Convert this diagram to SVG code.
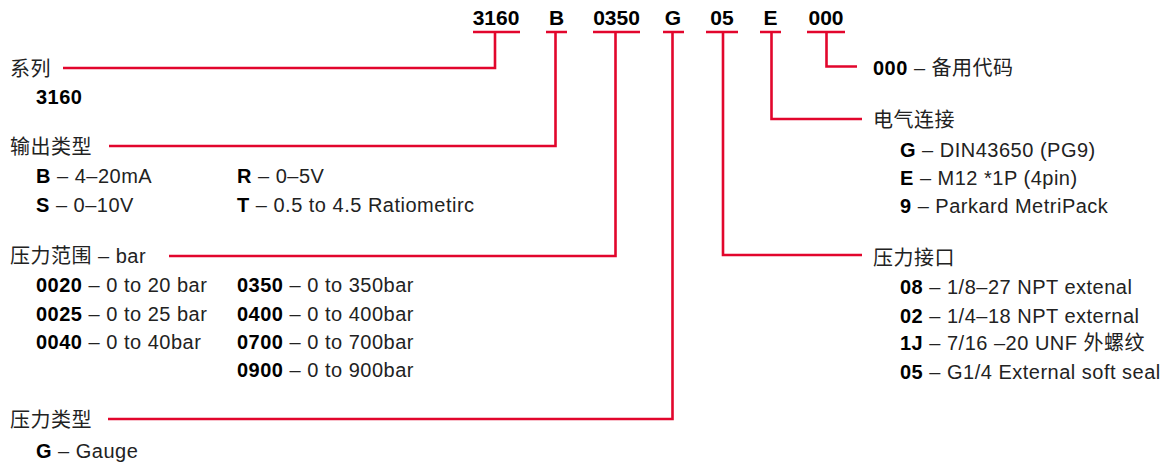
<svg xmlns="http://www.w3.org/2000/svg" width="1166" height="462" viewBox="0 0 1166 462">
<style>
text{font-family:"Liberation Sans","Noto Sans CJK SC",sans-serif;font-size:20px;fill:#222;letter-spacing:0.5px}
.b{font-weight:bold;fill:#000}
.code{font-weight:bold;font-size:21px;fill:#000;text-anchor:middle;letter-spacing:0}
.ln{fill:none;stroke:#e2062c;stroke-width:2.6;stroke-linecap:butt;stroke-linejoin:miter}
</style>
<rect width="1166" height="462" fill="#fff"/>
<g id="codes">
<text class="code" x="496" y="25">3160</text>
<text class="code" x="556.5" y="25">B</text>
<text class="code" x="616.5" y="25">0350</text>
<text class="code" x="673" y="25">G</text>
<text class="code" x="722" y="25">05</text>
<text class="code" x="770.5" y="25">E</text>
<text class="code" x="826" y="25">000</text>
</g>
<g id="connectors">
<path class="ln" d="M473 32H520M495 32V68H63"/>
<path class="ln" d="M546 32H567M555.5 32V146H109"/>
<path class="ln" d="M593 32H640M615.5 32V256H169"/>
<path class="ln" d="M663 32H684M672.5 32V419H108"/>
<path class="ln" d="M706 32H738M723 32V255H862"/>
<path class="ln" d="M760 32H781M771.5 32V119H862"/>
<path class="ln" d="M807 32H845M826.5 32V66.5H857"/>
</g>
<g id="series">
<text x="10" y="76">系列</text>
<text class="b" x="36" y="104">3160</text>
</g>
<g id="output">
<text x="10" y="154">输出类型</text>
<text x="36" y="183"><tspan class="b">B</tspan> – 4–20mA</text>
<text x="36" y="212"><tspan class="b">S</tspan> – 0–10V</text>
<text x="237" y="183"><tspan class="b">R</tspan> – 0–5V</text>
<text x="237" y="212"><tspan class="b">T</tspan> – 0.5 to 4.5 Ratiometirc</text>
</g>
<g id="range">
<text x="10" y="263">压力范围 – bar</text>
<text x="36" y="292"><tspan class="b">0020</tspan> – 0 to 20 bar</text>
<text x="36" y="321"><tspan class="b">0025</tspan> – 0 to 25 bar</text>
<text x="36" y="349"><tspan class="b">0040</tspan> – 0 to 40bar</text>
<text x="237" y="292"><tspan class="b">0350</tspan> – 0 to 350bar</text>
<text x="237" y="321"><tspan class="b">0400</tspan> – 0 to 400bar</text>
<text x="237" y="349"><tspan class="b">0700</tspan> – 0 to 700bar</text>
<text x="237" y="377"><tspan class="b">0900</tspan> – 0 to 900bar</text>
</g>
<g id="ptype">
<text x="10" y="427">压力类型</text>
<text x="36" y="458"><tspan class="b">G</tspan> – Gauge</text>
</g>
<g id="spare">
<text x="873" y="75"><tspan class="b">000</tspan> – 备用代码</text>
</g>
<g id="electrical">
<text x="873" y="127">电气连接</text>
<text x="900" y="157"><tspan class="b">G</tspan> – DIN43650 (PG9)</text>
<text x="900" y="185"><tspan class="b">E</tspan> – M12 *1P (4pin)</text>
<text x="900" y="213"><tspan class="b">9</tspan> – Parkard MetriPack</text>
</g>
<g id="port">
<text x="873" y="265">压力接口</text>
<text x="900" y="294"><tspan class="b">08</tspan> – 1/8–27 NPT extenal</text>
<text x="900" y="323"><tspan class="b">02</tspan> – 1/4–18 NPT external</text>
<text x="900" y="350"><tspan class="b">1J</tspan> – 7/16 –20 UNF 外螺纹</text>
<text x="900" y="379"><tspan class="b">05</tspan> – G1/4 External soft seal</text>
</g>
</svg>
